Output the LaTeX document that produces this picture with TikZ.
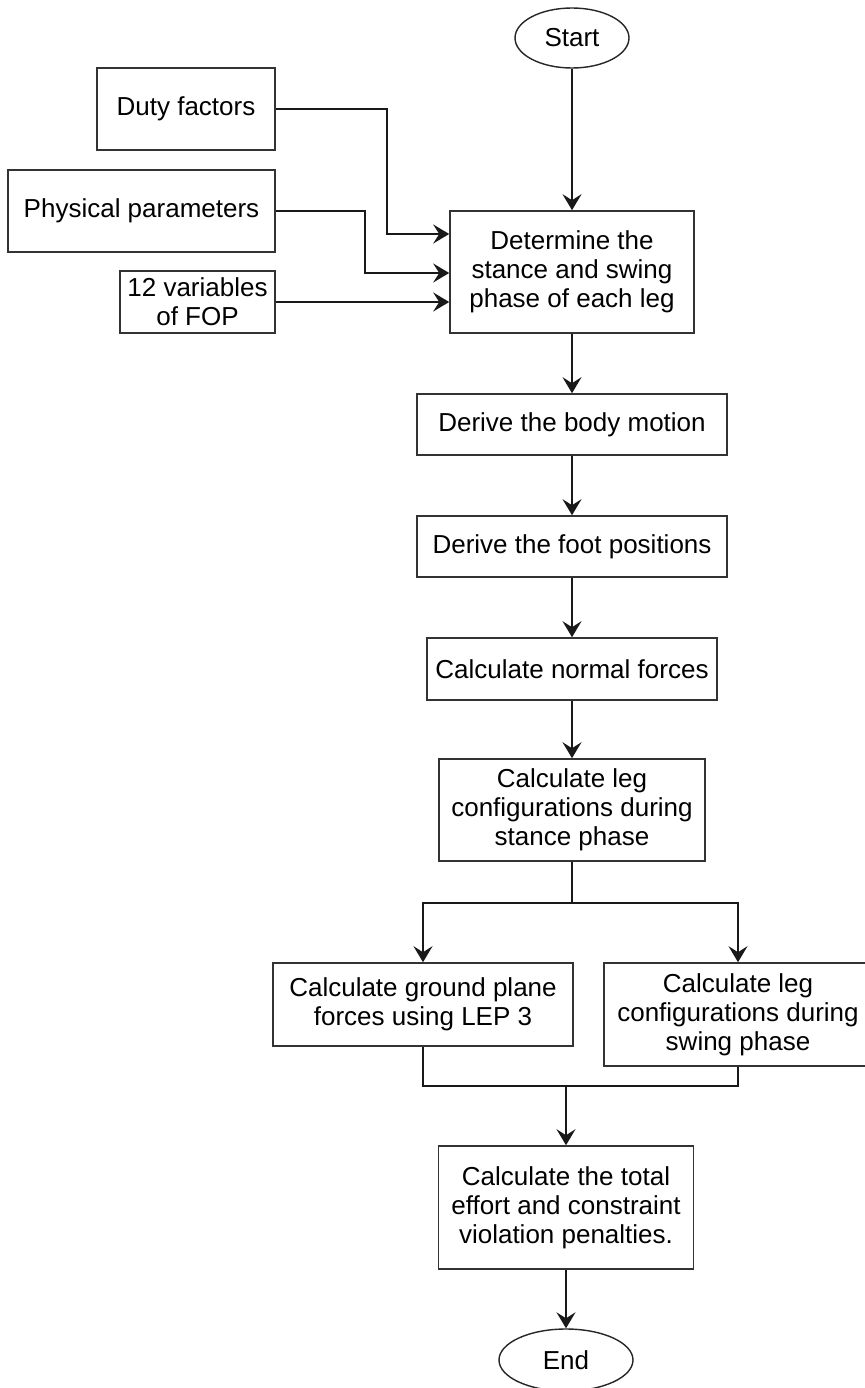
\documentclass[tikz,border=0pt]{standalone}
\usepackage{fontspec}
\setmainfont{Liberation Sans}
\usetikzlibrary{shapes.geometric,arrows.meta}
\tikzset{
  box/.style={draw=black!80, line width=1.6pt, fill=white, align=center, inner sep=0pt,
    font=\fontsize{26}{29}\selectfont},
  term/.style={box, ellipse, draw=black!85, line width=1.4pt},
  link/.style={line width=1.5pt, black!90},
  conn/.style={link, -{Stealth[length=16pt,width=19pt,inset=6pt]}},
}
\begin{document}
\begin{tikzpicture}[x=1pt,y=-1pt]
\fill[white] (0,0) rectangle (864,1388);
\useasboundingbox (0,0) rectangle (864,1388);

\node[term, minimum width=114pt, minimum height=60pt] (start) at (572,38) {Start};
\node[box, minimum width=178pt, minimum height=82pt] (duty) at (186,109) {Duty factors};
\node[box, minimum width=267pt, minimum height=82pt] (phys) at (141.5,211) {Physical parameters};
\node[box, minimum width=155pt, minimum height=62pt] (vars) at (197.5,302) {12 variables\\of FOP};
\node[box, minimum width=244pt, minimum height=122pt] (det) at (572,272) {Determine the\\stance and swing\\phase of each leg};
\node[box, minimum width=310pt, minimum height=61pt] (body) at (572,424.5) {Derive the body motion};
\node[box, minimum width=310pt, minimum height=61pt] (foot) at (572,546.5) {Derive the foot positions};
\node[box, minimum width=290pt, minimum height=62pt] (normal) at (572,669) {Calculate normal forces};
\node[box, minimum width=266pt, minimum height=102pt] (stance) at (572,810) {Calculate leg\\configurations during\\stance phase};
\node[box, minimum width=300pt, minimum height=83pt] (ground) at (423,1004.5) {Calculate ground plane\\forces using LEP 3};
\node[box, minimum width=268pt, minimum height=103pt] (swing) at (738,1014.5) {Calculate leg\\configurations during\\swing phase};
\node[box, minimum width=255pt, minimum height=123pt] (total) at (566,1207.5) {Calculate the total\\effort and constraint\\violation penalties.};
\node[term, minimum width=134pt, minimum height=62pt] (end) at (566,1360) {End};

\coordinate (branch) at (572,903);
\coordinate (merge) at (566,1086);

\draw[conn] (start) -- (det);
\draw[conn] (duty.east) -- ++(111,0) |- ([yshift=38pt]det.west);
\draw[conn] (phys.east) -- ++(89,0) |- ([yshift=-1pt]det.west);
\draw[conn] (vars.east) -- (vars.east -| det.west);
\draw[conn] (det) -- (body);
\draw[conn] (body) -- (foot);
\draw[conn] (foot) -- (normal);
\draw[conn] (normal) -- (stance);
\draw[link] (stance.south) -- (branch);
\draw[conn] (branch) -| (ground.north);
\draw[conn] (branch) -| (swing.north);
\draw[link] (ground.south) |- (merge) -| (swing.south);
\draw[conn] (merge) -- (total.north);
\draw[conn] (total) -- (end);
\end{tikzpicture}
\end{document}
